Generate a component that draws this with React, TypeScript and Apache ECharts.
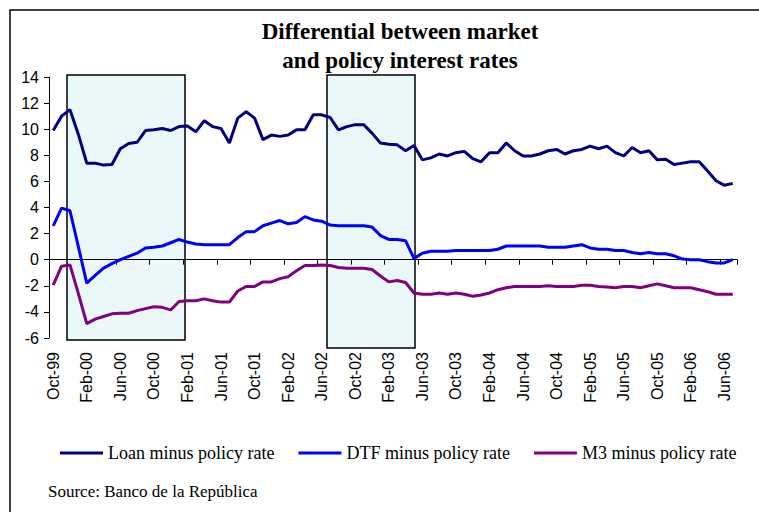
import React, { useEffect, useRef } from "react";
import * as echarts from "echarts";

const categories = [
  "Oct-99", "Nov-99", "Dec-99",
  "Jan-00", "Feb-00", "Mar-00", "Apr-00", "May-00", "Jun-00", "Jul-00", "Aug-00", "Sep-00", "Oct-00", "Nov-00", "Dec-00",
  "Jan-01", "Feb-01", "Mar-01", "Apr-01", "May-01", "Jun-01", "Jul-01", "Aug-01", "Sep-01", "Oct-01", "Nov-01", "Dec-01",
  "Jan-02", "Feb-02", "Mar-02", "Apr-02", "May-02", "Jun-02", "Jul-02", "Aug-02", "Sep-02", "Oct-02", "Nov-02", "Dec-02",
  "Jan-03", "Feb-03", "Mar-03", "Apr-03", "May-03", "Jun-03", "Jul-03", "Aug-03", "Sep-03", "Oct-03", "Nov-03", "Dec-03",
  "Jan-04", "Feb-04", "Mar-04", "Apr-04", "May-04", "Jun-04", "Jul-04", "Aug-04", "Sep-04", "Oct-04", "Nov-04", "Dec-04",
  "Jan-05", "Feb-05", "Mar-05", "Apr-05", "May-05", "Jun-05", "Jul-05", "Aug-05", "Sep-05", "Oct-05", "Nov-05", "Dec-05",
  "Jan-06", "Feb-06", "Mar-06", "Apr-06", "May-06", "Jun-06", "Jul-06",
];

const loanMinusPolicy = [
  9.9, 11.0, 11.5, 9.6, 7.4, 7.4, 7.25, 7.3, 8.5, 8.9, 9.0, 9.9, 9.95, 10.05, 9.9, 10.2,
  10.25, 9.8, 10.65, 10.2, 10.05, 8.95, 10.85, 11.35, 10.85, 9.2, 9.55, 9.45, 9.55, 9.95, 9.95, 11.1,
  11.1, 10.9, 9.95, 10.2, 10.35, 10.35, 9.7, 8.95, 8.85, 8.8, 8.35, 8.75, 7.65, 7.8, 8.1, 7.95,
  8.2, 8.3, 7.75, 7.5, 8.2, 8.2, 8.95, 8.35, 7.95, 7.95, 8.1, 8.35, 8.45, 8.1, 8.35, 8.45,
  8.7, 8.5, 8.7, 8.2, 7.95, 8.6, 8.2, 8.35, 7.65, 7.7, 7.3, 7.4, 7.5, 7.5, 6.8, 6.05,
  5.7, 5.85,
];

const dtfMinusPolicy = [
  2.6, 3.95, 3.75, 1.0, -1.8, -1.2, -0.65, -0.3, 0.0, 0.25, 0.5, 0.9, 0.95, 1.05, 1.3, 1.55,
  1.35, 1.2, 1.15, 1.15, 1.15, 1.15, 1.7, 2.15, 2.15, 2.6, 2.8, 3.0, 2.75, 2.85, 3.3, 3.05,
  2.95, 2.65, 2.6, 2.6, 2.6, 2.6, 2.5, 1.85, 1.55, 1.55, 1.45, 0.1, 0.5, 0.65, 0.65, 0.65,
  0.7, 0.7, 0.7, 0.7, 0.7, 0.8, 1.05, 1.05, 1.05, 1.05, 1.05, 0.95, 0.95, 0.95, 1.05, 1.15,
  0.9, 0.8, 0.8, 0.7, 0.7, 0.55, 0.45, 0.55, 0.45, 0.45, 0.3, 0.05, 0.0, 0.0, -0.15, -0.25,
  -0.25, 0.0,
];

const m3MinusPolicy = [
  -1.95, -0.5, -0.4, -2.6, -4.9, -4.55, -4.35, -4.15, -4.1, -4.1, -3.9, -3.75, -3.6, -3.65, -3.85, -3.2,
  -3.15, -3.15, -3.0, -3.15, -3.25, -3.25, -2.4, -2.05, -2.05, -1.7, -1.7, -1.45, -1.3, -0.85, -0.45, -0.45,
  -0.4, -0.45, -0.6, -0.65, -0.65, -0.65, -0.75, -1.25, -1.7, -1.6, -1.75, -2.55, -2.65, -2.65, -2.55, -2.65,
  -2.55, -2.65, -2.8, -2.7, -2.55, -2.3, -2.15, -2.05, -2.05, -2.05, -2.05, -2.0, -2.05, -2.05, -2.05, -1.95,
  -1.95, -2.05, -2.1, -2.15, -2.05, -2.05, -2.15, -2.0, -1.85, -2.0, -2.15, -2.15, -2.15, -2.3, -2.45, -2.65,
  -2.65, -2.65,
];

const seriesNames = ["Loan minus policy rate", "DTF minus policy rate", "M3 minus policy rate"];
const seriesColors = ["#000080", "#0000ff", "#800080"];

const yMin = -6;
const yMax = 14;
const yInterval = 2;

const titleText = "Differential between market\nand policy interest rates";
const sourceText = "Source: Banco de la República";

const SANS = "'Liberation Sans', Arial, sans-serif";
const SERIF = "'Liberation Serif', 'Times New Roman', serif";

export default function App() {
  const ref = useRef<HTMLDivElement>(null);

  useEffect(() => {
    if (!ref.current) return;
    const chart = echarts.init(ref.current, null, { renderer: "svg" });
    const seriesData = [loanMinusPolicy, dtfMinusPolicy, m3MinusPolicy];

    chart.setOption({
      animation: false,
      backgroundColor: "#ffffff",
      title: {
        text: titleText,
        left: 395,
        top: 12,
        textAlign: "center",
        textStyle: {
          fontFamily: SERIF,
          fontWeight: "bold",
          fontSize: 23,
          lineHeight: 29,
          color: "#000",
        },
      },
      legend: {
        left: 55,
        top: 439,
        itemWidth: 43,
        itemHeight: 3,
        itemGap: 24,
        icon: "rect",
        data: seriesNames,
        textStyle: { fontFamily: SERIF, fontSize: 18, color: "#000" },
      },
      grid: { left: 49, right: 22, top: 77, height: 261 },
      xAxis: [
        {
          type: "category",
          position: "bottom",
          data: categories,
          boundaryGap: true,
          axisLine: { show: false, onZero: false },
          axisTick: { show: false },
          axisLabel: {
            interval: 3,
            rotate: 90,
            margin: 14,
            fontFamily: SANS,
            fontSize: 16,
            color: "#000",
          },
          splitLine: { show: false },
        },
        {
          type: "category",
          position: "top",
          data: categories,
          boundaryGap: true,
          axisLine: { show: true, onZero: true, lineStyle: { color: "#000", width: 1 } },
          axisTick: { show: true, interval: 3, inside: true, length: 5, lineStyle: { color: "#000" } },
          axisLabel: { show: false },
          splitLine: { show: false },
        },
      ],
      yAxis: {
        type: "value",
        min: yMin,
        max: yMax,
        interval: yInterval,
        axisLine: { show: true, lineStyle: { color: "#000", width: 1 } },
        axisTick: { show: true, length: 5, lineStyle: { color: "#000" } },
        axisLabel: { margin: 10, fontFamily: SANS, fontSize: 16, color: "#000" },
        splitLine: { show: false },
      },
      series: seriesNames.map((name, i) => ({
        name,
        type: "line",
        xAxisIndex: 0,
        data: seriesData[i],
        symbol: "none",
        lineStyle: { color: seriesColors[i], width: 3 },
        itemStyle: { color: seriesColors[i] },
        z: 3,
      })),
      graphic: [
        {
          type: "rect",
          z: 0,
          shape: { x: 67, y: 75, width: 118, height: 265 },
          style: { fill: "#eaf8fa", stroke: "#000", lineWidth: 1.5 },
        },
        {
          type: "rect",
          z: 0,
          shape: { x: 327, y: 75, width: 88, height: 273 },
          style: { fill: "#eaf8fa", stroke: "#000", lineWidth: 1.5 },
        },
        {
          type: "polyline",
          z: 0,
          shape: { points: [[10, 520], [10, 10], [770, 10]] },
          style: { fill: "none", stroke: "#000", lineWidth: 1.5 },
        },
        {
          type: "text",
          left: 48,
          top: 483,
          style: { text: sourceText, font: `17px ${SERIF}`, fill: "#000" },
        },
      ],
    });

    return () => chart.dispose();
  }, []);

  return (
    <div
      ref={ref}
      style={{ position: "absolute", left: 0, top: 0, width: 759, height: 512 }}
    />
  );
}
